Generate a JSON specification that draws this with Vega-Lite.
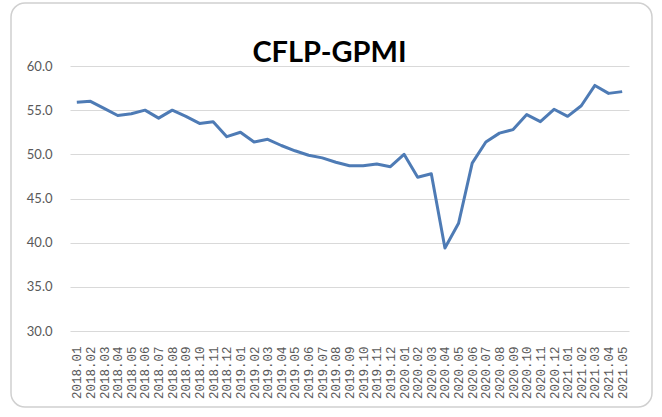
{
  "$schema": "https://vega.github.io/schema/vega-lite/v6.json",
  "width": 641,
  "height": 404,
  "autosize": {"type": "none"},
  "padding": {"left": 11, "top": 3, "right": 10, "bottom": 10},
  "background": "white",
  "title": {"text": "CFLP-GPMI", "font": "Lato", "fontSize": 29, "fontWeight": "bold", "color": "#000000", "anchor": "middle", "baseline": "alphabetic", "offset": 0, "dy": 88, "dx": -2},
  "config": {"view": {"stroke": "#d0d0d0", "strokeWidth": 1.5, "cornerRadius": 14}},
  "data": {"values": [
    {"month": "2018.01", "value": 55.9},
    {"month": "2018.02", "value": 56.0},
    {"month": "2018.03", "value": 55.2},
    {"month": "2018.04", "value": 54.4},
    {"month": "2018.05", "value": 54.6},
    {"month": "2018.06", "value": 55.0},
    {"month": "2018.07", "value": 54.1},
    {"month": "2018.08", "value": 55.0},
    {"month": "2018.09", "value": 54.3},
    {"month": "2018.10", "value": 53.5},
    {"month": "2018.11", "value": 53.7},
    {"month": "2018.12", "value": 52.0},
    {"month": "2019.01", "value": 52.5},
    {"month": "2019.02", "value": 51.4},
    {"month": "2019.03", "value": 51.7},
    {"month": "2019.04", "value": 51.0},
    {"month": "2019.05", "value": 50.4},
    {"month": "2019.06", "value": 49.9},
    {"month": "2019.07", "value": 49.6},
    {"month": "2019.08", "value": 49.1},
    {"month": "2019.09", "value": 48.7},
    {"month": "2019.10", "value": 48.7},
    {"month": "2019.11", "value": 48.9},
    {"month": "2019.12", "value": 48.6},
    {"month": "2020.01", "value": 50.0},
    {"month": "2020.02", "value": 47.4},
    {"month": "2020.03", "value": 47.8},
    {"month": "2020.04", "value": 39.4},
    {"month": "2020.05", "value": 42.2},
    {"month": "2020.06", "value": 49.0},
    {"month": "2020.07", "value": 51.4},
    {"month": "2020.08", "value": 52.4},
    {"month": "2020.09", "value": 52.8},
    {"month": "2020.10", "value": 54.5},
    {"month": "2020.11", "value": 53.7},
    {"month": "2020.12", "value": 55.1},
    {"month": "2021.01", "value": 54.3},
    {"month": "2021.02", "value": 55.5},
    {"month": "2021.03", "value": 57.8},
    {"month": "2021.04", "value": 56.9},
    {"month": "2021.05", "value": 57.1}
  ]},
  "mark": {"type": "line", "color": "#4E7BB5", "strokeWidth": 3, "strokeJoin": "round"},
  "encoding": {
    "x": {
      "field": "month", "type": "ordinal", "sort": null,
      "scale": {"type": "point", "padding": 0.5, "range": [59, 618]},
      "axis": {"title": null, "labelAngle": -90, "labelFont": "Liberation Mono", "labelFontSize": 12.5, "labelColor": "#595959", "domain": false, "ticks": false, "tickSize": 0, "labelPadding": 3, "offset": -64, "grid": false, "labelOverlap": false}
    },
    "y": {
      "field": "value", "type": "quantitative",
      "scale": {"domain": [30, 60], "nice": false, "zero": false, "range": [328, 63]},
      "axis": {"title": null, "values": [30, 35, 40, 45, 50, 55, 60], "format": ".1f", "labelFont": "Lato", "labelFontSize": 13, "labelColor": "#595959", "domain": false, "ticks": false, "tickSize": 0, "labelPadding": 4, "offset": -45, "grid": true, "gridColor": "#d9d9d9", "gridWidth": 1}
    }
  }
}
